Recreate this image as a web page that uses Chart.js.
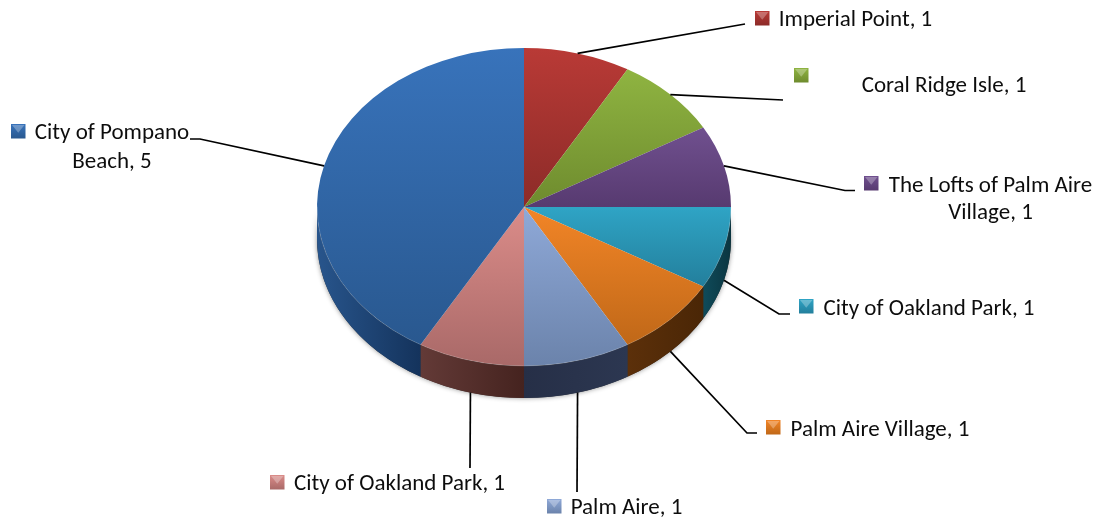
<!DOCTYPE html>
<html>
<head>
<meta charset="utf-8">
<title>Pie</title>
<style>
  html, body { margin: 0; padding: 0; background: #fff; }
  #wrap { width: 1097px; height: 517px; position: relative; }
</style>
<script src="https://cdn.jsdelivr.net/npm/chart.js@4/dist/chart.umd.min.js"></script>
</head>
<body>
<div id="wrap"><canvas id="pie" width="1097" height="517"></canvas></div>
<script>
/* 3D look pie: Chart.js draws the slices, the plugin squashes them and adds the wall + callouts */
const categories = ["Imperial Point", "Coral Ridge Isle", "The Lofts of Palm Aire Village", "City of Oakland Park",
  "Palm Aire Village", "Palm Aire", "City of Oakland Park", "City of Pompano Beach"];
const values = [1, 1, 1, 1, 1, 1, 1, 5];

// face gradient, top -> bottom
const faceTop = ["#b93a36", "#8fb441", "#70508f", "#2fa4c5", "#f28527", "#8fa9d8", "#db8c89", "#3873bb"];
const faceBottom = ["#8c2b28", "#6e8b2e", "#573a70", "#237f9c", "#c06818", "#6b83ab", "#a96968", "#29588f"];
// wall gradient, left -> right
const wallLeft = ["#5c1a18", "#4b5f1c", "#3a2450", "#0f4b5a", "#5c300a", "#262f47", "#633a37", "#28558c"];
const wallRight = ["#5c1a18", "#4b5f1c", "#3a2450", "#0b3540", "#4a2606", "#2c3751", "#45231f", "#14335c"];

// callouts: elbow of the leader, label lines, marker box
const elbows = [[[745, 24]], [[783, 100]], [[845, 190.5], [855, 190.5]], [[779, 314], [790, 314]],
  [[747, 433], [757, 433]], [[577, 492]], [[470, 468]], [[200, 139], [190, 139]]];
const labelLines = [["Imperial Point, 1"], ["Coral Ridge Isle, 1"], ["The Lofts of Palm Aire", "Village, 1"],
  ["City of Oakland Park, 1"], ["Palm Aire Village, 1"], ["Palm Aire, 1"], ["City of Oakland Park, 1"],
  ["City of Pompano", "Beach, 5"]];
const labelCenters = [855.5, 944, 990.5, 929, 880, 626.5, 399.5, 112];
const labelBaselines = [[26], [92], [192, 219], [315], [436], [514], [490], [139, 168]];
const markerSpots = [[755, 11], [794, 68], [864, 176], [799, 299], [766, 420], [547, 499], [270, 475], [11, 124]];

const FONT = '23px Carlito, Lato, "Open Sans", sans-serif';
const RY = 159, DEPTH = 32, MARKER = 14.5;
const squash = (a) => RY / a.outerRadius;

function wallPath(ctx, a, from, to) {
  const rx = a.outerRadius;
  ctx.beginPath();
  ctx.ellipse(a.x, a.y, rx, RY, 0, from, to);
  ctx.ellipse(a.x, a.y + DEPTH, rx, RY, 0, to, from, true);
  ctx.closePath();
}

const pie3d = {
  id: "pie3d",
  beforeDatasetDraw(chart) {
    const ctx = chart.ctx;
    const arcs = chart.getDatasetMeta(0).data;
    const a0 = arcs[0];
    // soft shadow under the body
    ctx.save();
    ctx.shadowColor = "rgba(0,0,0,.45)";
    ctx.shadowBlur = 5;
    ctx.fillStyle = "#333";
    wallPath(ctx, a0, 0, Math.PI);
    ctx.fill();
    ctx.restore();
    // walls, only the front half is visible
    arcs.forEach((a, i) => {
      const from = Math.max(a.startAngle, 0), to = Math.min(a.endAngle, Math.PI);
      if (to <= from) return;
      const x1 = a.x + a.outerRadius * Math.cos(from), x2 = a.x + a.outerRadius * Math.cos(to);
      const g = ctx.createLinearGradient(Math.min(x1, x2), 0, Math.max(x1, x2), 0);
      g.addColorStop(0, wallLeft[i]);
      g.addColorStop(1, wallRight[i]);
      ctx.fillStyle = g;
      wallPath(ctx, a, from, to);
      ctx.fill();
    });
    // top face gets squashed into an ellipse
    ctx.save();
    ctx.translate(a0.x, a0.y);
    ctx.scale(1, squash(a0));
    ctx.translate(-a0.x, -a0.y);
  },
  afterDatasetDraw(chart) {
    const ctx = chart.ctx;
    ctx.restore();
    const arcs = chart.getDatasetMeta(0).data;
    // thin light rim on the front edge
    ctx.save();
    ctx.lineWidth = 1;
    ctx.strokeStyle = "rgba(255,255,255,.16)";
    ctx.beginPath();
    ctx.ellipse(arcs[0].x, arcs[0].y, arcs[0].outerRadius, RY, 0, 0, Math.PI);
    ctx.stroke();
    ctx.restore();
    arcs.forEach((a, i) => drawCallout(ctx, a, i));
  }
};

function drawCallout(ctx, a, i) {
  // leader starts on the rim at the middle of the slice
  const mid = (a.startAngle + a.endAngle) / 2;
  const sx = a.x + a.outerRadius * Math.cos(mid);
  let sy = a.y + RY * Math.sin(mid);
  if (Math.sin(mid) > 0) sy += DEPTH;
  ctx.save();
  ctx.strokeStyle = "#000";
  ctx.lineWidth = 1.7;
  ctx.beginPath();
  ctx.moveTo(sx, sy);
  elbows[i].forEach((p) => ctx.lineTo(p[0], p[1]));
  ctx.stroke();

  // marker, bevelled box with a lighter wedge on top
  const [mx, my] = markerSpots[i];
  const g = ctx.createLinearGradient(0, my, 0, my + MARKER);
  g.addColorStop(0, faceTop[i]);
  g.addColorStop(1, faceBottom[i]);
  ctx.fillStyle = g;
  ctx.fillRect(mx, my, MARKER, MARKER);
  ctx.fillStyle = "rgba(255,255,255,.28)";
  ctx.beginPath();
  ctx.moveTo(mx + 1, my + 1);
  ctx.lineTo(mx + MARKER - 1, my + 1);
  ctx.lineTo(mx + MARKER / 2, my + MARKER * 0.6);
  ctx.closePath();
  ctx.fill();

  // label
  ctx.fillStyle = "#0d0d0d";
  ctx.font = FONT;
  ctx.textAlign = "center";
  ctx.textBaseline = "alphabetic";
  labelLines[i].forEach((t, k) => ctx.fillText(t, labelCenters[i], labelBaselines[i][k]));
  ctx.restore();
}

// each slice has its own vertical gradient over its own height
function faceFill(c) {
  const i = c.dataIndex;
  const area = c.chart.chartArea;
  if (!area || i === undefined) return faceTop[i || 0];
  const total = values.reduce((s, v) => s + v, 0);
  const before = values.slice(0, i).reduce((s, v) => s + v, 0);
  const R = (area.right - area.left) / 2, cy = (area.top + area.bottom) / 2;
  const a1 = before / total * Math.PI * 2 - Math.PI / 2;
  const a2 = (before + values[i]) / total * Math.PI * 2 - Math.PI / 2;
  const ys = [0, Math.sin(a1) * R, Math.sin(a2) * R];
  for (const q of [-Math.PI / 2, Math.PI / 2, Math.PI * 1.5]) if (q > a1 && q < a2) ys.push(Math.sin(q) * R);
  const g = c.chart.ctx.createLinearGradient(0, cy + Math.min(...ys), 0, cy + Math.max(...ys));
  g.addColorStop(0, faceTop[i]);
  g.addColorStop(1, faceBottom[i]);
  return g;
}

new Chart(document.getElementById("pie"), {
  type: "pie",
  data: {
    labels: categories,
    datasets: [{ data: values, backgroundColor: faceFill, borderWidth: 0 }]
  },
  options: {
    responsive: false,
    animation: false,
    events: [],
    layout: { padding: { left: 317, right: 366, top: 0, bottom: 103 } },
    plugins: { legend: { display: false }, tooltip: { enabled: false } }
  },
  plugins: [pie3d]
});
</script>
</body>
</html>
